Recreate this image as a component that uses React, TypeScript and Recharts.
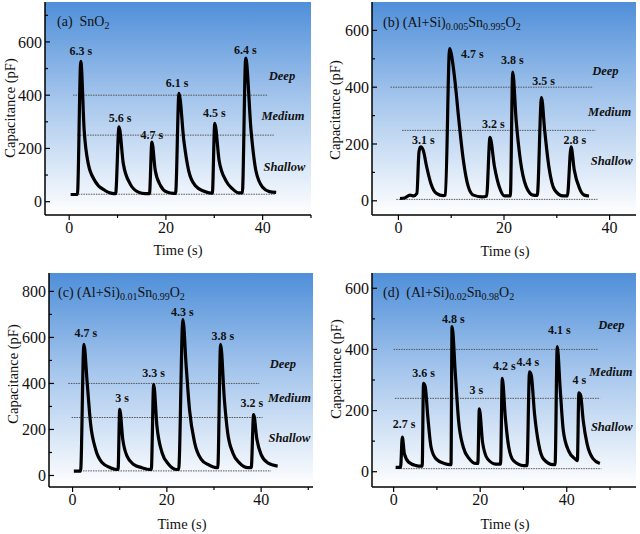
import React from 'react';
import { LineChart, Line, XAxis, YAxis, ReferenceLine, ReferenceDot } from 'recharts';

const FONT = '"Liberation Serif", "Times New Roman", Times, serif';

// (a) SnO2
const aTime = [0.3, 1.7, 2.4, 3.1, 3.95, 5.3, 7.4, 9.2, 9.6, 10.3, 11.2, 12.6, 14.3, 15.7, 16.6, 17.1, 17.8, 18.9, 20.2, 21.6, 22.0, 22.7, 23.7, 24.7, 26.1, 27.9, 29.3, 29.6, 30.1, 31.0, 32.4, 33.8, 35.1, 35.8, 36.5, 37.6, 38.6, 40.0, 41.4, 42.8];
const aCap = [27, 27, 527, 268, 142, 79, 42, 30, 30, 281, 142, 67, 36, 30, 30, 224, 117, 60, 36, 31, 31, 407, 231, 117, 60, 39, 32, 32, 294, 155, 79, 48, 33, 33, 539, 268, 117, 54, 38, 35];
const aPeakText = ['6.3 s', '5.6 s', '4.7 s', '6.1 s', '4.5 s', '6.4 s'];
const aPeakT = [2.4, 10.5, 17.1, 22.3, 30, 36.4];
const aPeakC = [567, 316, 253, 445, 334, 571];
const aLevels = [400, 250, 28];
const aLevelFrom = [0.8, 1.7, 1.9];
const aLevelTo = [41, 42.3, 42.5];
const aZoneT = [44, 44.2, 44.5];
const aZoneC = [473, 325, 130];

// (b) (Al+Si)0.005Sn0.995O2
const bTime = [0.3, 1.2, 2.2, 2.85, 3.5, 3.9, 4.2, 4.7, 5.35, 6.15, 7.2, 8.5, 8.9, 9.7, 10.0, 10.7, 11.45, 12.3, 13.25, 14.2, 15.8, 16.7, 17.35, 18.2, 19.2, 20.1, 21.2, 21.65, 22.3, 23.1, 24.2, 25.5, 26.3, 27.1, 27.7, 28.5, 29.6, 31.2, 32.0, 32.7, 33.3, 34.3, 35.2, 36.1];
const bCap = [8, 10, 20, 17, 26, 172, 190, 178, 120, 61, 26, 18, 20, 536, 518, 424, 284, 143, 49, 20, 14, 16, 223, 120, 44, 17, 17, 453, 284, 143, 50, 20, 19, 363, 249, 120, 38, 17, 17, 190, 109, 44, 20, 17];
const bPeakText = ['3.1 s', '4.7 s', '3.2 s', '3.8 s', '3.5 s', '2.8 s'];
const bPeakT = [4.7, 14.0, 18.0, 21.6, 27.5, 33.4];
const bPeakC = [216, 518, 272, 495, 421, 214];
const bLevels = [400, 248, 5];
const bLevelFrom = [-1.5, 0.7, -0.4];
const bLevelTo = [36.9, 37.3, 37.7];
const bZoneT = [39.2, 40.0, 40.4];
const bZoneC = [458, 313, 140];

// (c) (Al+Si)0.01Sn0.99O2
const cTime = [0.27, 1.7, 2.4, 3.1, 3.8, 4.9, 6.3, 8.0, 9.4, 9.65, 10.0, 10.65, 11.55, 12.97, 14.7, 16.5, 16.7, 17.2, 17.9, 19.0, 20.4, 22.1, 22.5, 23.4, 24.1, 24.8, 25.9, 27.3, 28.7, 30.5, 30.8, 31.4, 32.2, 32.9, 34.0, 35.4, 37.2, 37.9, 38.4, 39.1, 40.0, 41.4, 43.5];
const cCap = [19, 19, 570, 403, 229, 113, 55, 34, 26, 26, 287, 157, 84, 48, 34, 26, 26, 396, 214, 98, 48, 26, 26, 678, 475, 287, 142, 70, 48, 34, 34, 570, 330, 186, 98, 55, 34, 34, 265, 157, 91, 55, 41];
const cPeakText = ['4.7 s', '3 s', '3.3 s', '4.3 s', '3.8 s', '3.2 s'];
const cPeakT = [2.8, 10.5, 17.2, 23.3, 31.9, 38.0];
const cPeakC = [622, 336, 445, 713, 607, 314];
const cLevels = [400, 252, 20];
const cLevelFrom = [-0.9, -0.2, 2.2];
const cLevelTo = [39.6, 40.3, 42.1];
const cZoneT = [44.6, 46, 46];
const cZoneC = [484, 340, 166];

// (d) (Al+Si)0.02Sn0.98O2
const dTime = [0.46, 1.6, 2.0, 2.5, 3.5, 5.2, 6.3, 6.6, 6.9, 7.3, 7.9, 8.65, 9.8, 11.7, 13.0, 13.25, 13.5, 14.25, 15.0, 16.1, 17.5, 19.0, 19.45, 19.8, 20.55, 21.7, 23.6, 24.7, 25.1, 25.8, 26.6, 27.7, 30.0, 30.8, 31.4, 31.8, 32.55, 33.5, 34.6, 36.9, 37.3, 37.8, 38.5, 39.2, 40.4, 41.9, 42.45, 42.8, 43.2, 43.8, 44.7, 46.1, 47.65];
const dCap = [14, 14, 113, 58, 31, 20, 18, 18, 289, 278, 179, 80, 42, 27, 23, 23, 475, 322, 168, 80, 42, 27, 27, 206, 96, 42, 25, 25, 305, 179, 80, 36, 20, 20, 327, 316, 190, 91, 42, 23, 23, 409, 267, 135, 69, 42, 36, 258, 250, 168, 91, 42, 27];
const dPeakText = ['2.7 s', '3.6 s', '4.8 s', '3 s', '4.2 s', '4.4 s', '4.1 s', '4 s'];
const dPeakT = [2.4, 6.9, 13.8, 19.1, 25.6, 31.0, 38.3, 42.9];
const dPeakC = [156, 323, 499, 268, 345, 359, 463, 300];
const dLevels = [400, 240, 10];
const dLevelFrom = [0, 0.3, 0.5];
const dLevelTo = [47.3, 47.7, 48];
const dZoneT = [50.3, 50.2, 50.4];
const dZoneC = [480, 326, 148];

const zoneNames = ['Deep', 'Medium', 'Shallow'];

// title pieces: [text, isSubscript]
const aTitle: [string, boolean][] = [['(a)  SnO', false], ['2', true]];
const bTitle: [string, boolean][] = [['(b) (Al+Si)', false], ['0.005', true], ['Sn', false], ['0.995', true], ['O', false], ['2', true]];
const cTitle: [string, boolean][] = [['(c) (Al+Si)', false], ['0.01', true], ['Sn', false], ['0.99', true], ['O', false], ['2', true]];
const dTitle: [string, boolean][] = [['(d)  (Al+Si)', false], ['0.02', true], ['Sn', false], ['0.98', true], ['O', false], ['2', true]];

const makeXTick = (majorStep: number) => (props: any) => {
  const { x, y, payload } = props;
  const major = payload.value % majorStep === 0;
  return (
    <g>
      <line x1={x} x2={x} y1={y} y2={y + (major ? 5 : 3)} stroke="#000" strokeWidth={1.2} />
      {major && (
        <text x={x} y={y + 18} textAnchor="middle" fontSize={16} fontFamily={FONT} fill="#111">
          {payload.value}
        </text>
      )}
    </g>
  );
};

const makeYTick = (majorStep: number) => (props: any) => {
  const { x, y, payload } = props;
  const major = payload.value % majorStep === 0;
  return (
    <g>
      <line x1={x} x2={x + (major ? 5 : 3)} y1={y} y2={y} stroke="#000" strokeWidth={1.2} />
      {major && (
        <text x={x - 3} y={y} dy="0.35em" textAnchor="end" fontSize={16} fontFamily={FONT} fill="#111">
          {payload.value}
        </text>
      )}
    </g>
  );
};

interface PanelProps {
  id: string;
  left: number;
  top: number;
  margin: { top: number; right: number; bottom: number; left: number };
  xDomain: [number, number];
  yDomain: [number, number];
  xTicks: number[];
  yTicks: number[];
  time: number[];
  cap: number[];
  peakText: string[];
  peakT: number[];
  peakC: number[];
  levels: number[];
  levelFrom: number[];
  levelTo: number[];
  zoneT: number[];
  zoneC: number[];
  title: [string, boolean][];
  titlePos: [number, number];
  yTitlePos: [number, number];
  xTitlePos: [number, number];
}

const Y_AXIS_W = 40;
const X_AXIS_H = 30;

const Panel: React.FC<PanelProps> = (p) => {
  const data = p.time.map((t, i) => ({ t, c: p.cap[i] }));
  const m = p.margin;
  // plot-area background gradient (blue at top fading to white) behind the transparent chart svg
  const bg: React.CSSProperties = {
    position: 'absolute',
    left: m.left + Y_AXIS_W,
    top: m.top,
    width: 320 - m.left - m.right - Y_AXIS_W,
    height: 267 - m.top - m.bottom - X_AXIS_H,
    background: 'linear-gradient(to bottom, #4f8fd9 0%, #a4c5ec 45%, #ffffff 100%)',
  };
  return (
    <div style={{ position: 'absolute', left: p.left, top: p.top, width: 320, height: 267 }}>
      <div style={bg} />
      <LineChart width={320} height={267} data={data} margin={m}>
        <XAxis
          dataKey="t"
          type="number"
          domain={p.xDomain}
          ticks={p.xTicks}
          interval={0}
          tickSize={0}
          tickMargin={0}
          height={X_AXIS_H}
          tick={makeXTick(20)}
          tickLine={false}
          axisLine={{ stroke: '#000', strokeWidth: 1.5 }}
        />
        <XAxis xAxisId="top" orientation="top" type="number" domain={p.xDomain} height={0} tick={false} tickLine={false} axisLine={{ stroke: '#000', strokeWidth: 1.5 }} />
        <YAxis
          type="number"
          domain={p.yDomain}
          ticks={p.yTicks}
          interval={0}
          tickSize={0}
          tickMargin={0}
          width={Y_AXIS_W}
          tick={makeYTick(200)}
          tickLine={false}
          axisLine={{ stroke: '#000', strokeWidth: 1.5 }}
        />
        <YAxis yAxisId="right" orientation="right" type="number" domain={p.yDomain} width={0} tick={false} tickLine={false} axisLine={{ stroke: '#000', strokeWidth: 1.5 }} />
        {p.levels.map((lv, i) => (
          <ReferenceLine
            key={`lv-${i}`}
            segment={[{ x: p.levelFrom[i], y: lv }, { x: p.levelTo[i], y: lv }]}
            stroke="#555"
            strokeWidth={1}
            strokeDasharray="1.5 1"
          />
        ))}
        <Line type="monotone" dataKey="c" stroke="#000" strokeWidth={3.2} dot={false} isAnimationActive={false} />
        {p.peakText.map((s, i) => (
          <ReferenceDot
            key={`pk-${i}`}
            x={p.peakT[i]}
            y={p.peakC[i]}
            r={0}
            shape={(sp: any) => (
              <text x={sp.cx} y={sp.cy} dy="0.35em" textAnchor="middle" fontSize={12} fontWeight="bold" fontFamily={FONT} fill="#111">
                {s}
              </text>
            )}
          />
        ))}
        {zoneNames.map((s, i) => (
          <ReferenceDot
            key={`zn-${i}`}
            x={p.zoneT[i]}
            y={p.zoneC[i]}
            r={0}
            shape={(sp: any) => (
              <text x={sp.cx} y={sp.cy} dy="0.35em" textAnchor="middle" fontSize={12.5} fontWeight="bold" fontStyle="italic" fontFamily={FONT} fill="#111">
                {s}
              </text>
            )}
          />
        ))}
      </LineChart>
      <svg width={320} height={267} style={{ position: 'absolute', left: 0, top: 0, pointerEvents: 'none' }}>
        <text x={p.titlePos[0]} y={p.titlePos[1]} fontSize={14} fontFamily={FONT} fill="#111" style={{ whiteSpace: 'pre' }}>
          {p.title.map(([s, isSub], i) => {
            const prevSub = i > 0 && p.title[i - 1][1];
            const dy = isSub ? 3 : prevSub ? -3 : 0;
            return (
              <tspan key={i} dy={dy} fontSize={isSub ? 10 : 14}>
                {s}
              </tspan>
            );
          })}
        </text>
        <text
          transform={`translate(${p.yTitlePos[0]},${p.yTitlePos[1]}) rotate(-90)`}
          textAnchor="middle"
          dy="0.35em"
          fontSize={14.5}
          fontFamily={FONT}
          fill="#111"
        >
          Capacitance (pF)
        </text>
        <text x={p.xTitlePos[0]} y={p.xTitlePos[1]} dy="0.35em" textAnchor="middle" fontSize={14.5} fontFamily={FONT} fill="#111">
          Time (s)
        </text>
      </svg>
    </div>
  );
};

export default function App() {
  return (
    <div style={{ position: 'absolute', left: 0, top: 0, width: 640, height: 534, background: '#fff', overflow: 'hidden' }}>
      <Panel
        id="a"
        left={0}
        top={0}
        margin={{ top: 2, right: 9, bottom: 22, left: 5 }}
        xDomain={[-5, 50]}
        yDomain={[-50, 750]}
        xTicks={[0, 10, 20, 30, 40, 50]}
        yTicks={[0, 100, 200, 300, 400, 500, 600, 700]}
        time={aTime}
        cap={aCap}
        peakText={aPeakText}
        peakT={aPeakT}
        peakC={aPeakC}
        levels={aLevels}
        levelFrom={aLevelFrom}
        levelTo={aLevelTo}
        zoneT={aZoneT}
        zoneC={aZoneC}
        title={aTitle}
        titlePos={[57, 26]}
        yTitlePos={[10, 108]}
        xTitlePos={[178, 250]}
      />
      <Panel
        id="b"
        left={320}
        top={0}
        margin={{ top: 2, right: 4, bottom: 22, left: 12 }}
        xDomain={[-5, 45]}
        yDomain={[-50, 700]}
        xTicks={[0, 10, 20, 30, 40]}
        yTicks={[0, 100, 200, 300, 400, 500, 600]}
        time={bTime}
        cap={bCap}
        peakText={bPeakText}
        peakT={bPeakT}
        peakC={bPeakC}
        levels={bLevels}
        levelFrom={bLevelFrom}
        levelTo={bLevelTo}
        zoneT={bZoneT}
        zoneC={bZoneC}
        title={bTitle}
        titlePos={[63, 27]}
        yTitlePos={[15, 110]}
        xTitlePos={[185, 251]}
      />
      <Panel
        id="c"
        left={0}
        top={267}
        margin={{ top: 6, right: 7, bottom: 17, left: 9 }}
        xDomain={[-5, 51]}
        yDomain={[-50, 880]}
        xTicks={[0, 10, 20, 30, 40, 50]}
        yTicks={[0, 100, 200, 300, 400, 500, 600, 700, 800]}
        time={cTime}
        cap={cCap}
        peakText={cPeakText}
        peakT={cPeakT}
        peakC={cPeakC}
        levels={cLevels}
        levelFrom={cLevelFrom}
        levelTo={cLevelTo}
        zoneT={cZoneT}
        zoneC={cZoneC}
        title={cTitle}
        titlePos={[58, 30]}
        yTitlePos={[13, 107]}
        xTitlePos={[182, 257]}
      />
      <Panel
        id="d"
        left={320}
        top={267}
        margin={{ top: 6, right: 4, bottom: 17, left: 12 }}
        xDomain={[-5, 56]}
        yDomain={[-50, 650]}
        xTicks={[0, 10, 20, 30, 40, 50]}
        yTicks={[0, 100, 200, 300, 400, 500, 600]}
        time={dTime}
        cap={dCap}
        peakText={dPeakText}
        peakT={dPeakT}
        peakC={dPeakC}
        levels={dLevels}
        levelFrom={dLevelFrom}
        levelTo={dLevelTo}
        zoneT={dZoneT}
        zoneC={dZoneC}
        title={dTitle}
        titlePos={[63, 30]}
        yTitlePos={[16, 102]}
        xTitlePos={[185, 257]}
      />
    </div>
  );
}
